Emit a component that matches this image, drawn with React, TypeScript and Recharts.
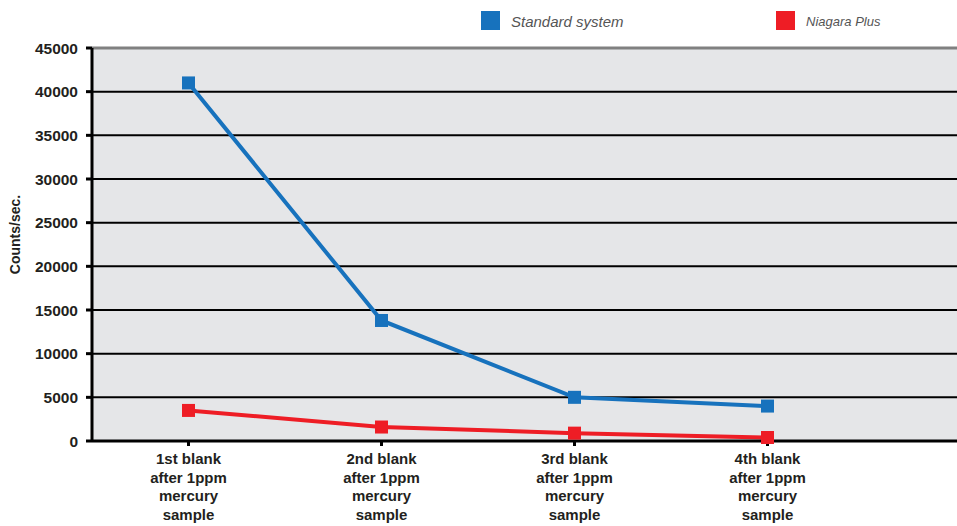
import React from 'react'
import { LineChart, Line, XAxis, YAxis, CartesianGrid, ReferenceLine } from 'recharts'

const categories = [
    '1st blank\nafter 1ppm\nmercury\nsample',
    '2nd blank\nafter 1ppm\nmercury\nsample',
    '3rd blank\nafter 1ppm\nmercury\nsample',
    '4th blank\nafter 1ppm\nmercury\nsample',
]
const standardSystem = [41000, 13800, 5000, 4000]
const niagaraPlus = [3500, 1600, 900, 400]
const yTicks = [0, 5000, 10000, 15000, 20000, 25000, 30000, 35000, 40000, 45000]

const series = [
    { key: 'standard', name: 'Standard system', color: '#1772bd', values: standardSystem, fontSize: 15, left: 481 },
    { key: 'niagara', name: 'Niagara Plus', color: '#ee1d25', values: niagaraPlus, fontSize: 13, left: 776 },
]

const data = categories.map((name, i) => {
    const row: Record<string, any> = { name }
    series.forEach(s => { row[s.key] = s.values[i] })
    return row
})

const font = '"Liberation Sans", Arial, Helvetica, sans-serif'

const CategoryTick = (props: any) => {
    const { x, y, payload } = props
    const lines = String(payload.value).split('\n')
    return (
        <text x={x} y={y + 16} textAnchor="middle" fontFamily={font} fontWeight="bold" fontSize={15} fill="#231f20">
            {lines.map((l, i) => (
                <tspan key={i} x={x} dy={i === 0 ? 0 : 18.5}>{l}</tspan>
            ))}
        </text>
    )
}

const squareDot = (color: string) => (props: any) => {
    const { cx, cy, index } = props
    return <rect key={index} x={cx - 6.5} y={cy - 6.5} width={13} height={13} fill={color} />
}

const App = () => {
    return (
        <div style={{ position: 'absolute', left: 0, top: 0, width: 957, height: 526, background: '#fff' }}>
            <LineChart width={957} height={526} data={data} margin={{ top: 48, right: 0, bottom: 0, left: 0 }}>
                <CartesianGrid vertical={false} fill="#e5e6e8" stroke="#000" strokeWidth={2} />
                <XAxis
                    dataKey="name"
                    height={85}
                    padding={{ left: 96.5, right: 189.5 }}
                    axisLine={{ stroke: '#000', strokeWidth: 3 }}
                    tickLine={{ stroke: '#000', strokeWidth: 3 }}
                    tickSize={5}
                    tick={<CategoryTick />}
                    interval={0}
                />
                <YAxis
                    width={92}
                    domain={[0, 45000]}
                    ticks={yTicks}
                    interval={0}
                    axisLine={{ stroke: '#000', strokeWidth: 3 }}
                    tickLine={{ stroke: '#000', strokeWidth: 3 }}
                    tickSize={6}
                    tickMargin={8}
                    tick={{ fontFamily: font, fontWeight: 'bold', fontSize: 15.5, fill: '#231f20' }}
                    label={{
                        content: (p: any) => {
                            const vb = p.viewBox
                            const cy = vb.y + vb.height / 2 - 10
                            return (
                                <text x={15} y={cy} transform={`rotate(-90 15 ${cy})`} textAnchor="middle" dominantBaseline="central"
                                    fontFamily={font} fontWeight="bold" fontSize={14} fill="#231f20">Counts/sec.</text>
                            )
                        },
                    }}
                />
                <ReferenceLine y={45000} stroke="#808080" strokeWidth={3} />
                {series.map(s => (
                    <Line
                        key={s.key}
                        dataKey={s.key}
                        name={s.name}
                        stroke={s.color}
                        strokeWidth={4}
                        dot={squareDot(s.color)}
                        activeDot={false}
                        isAnimationActive={false}
                    />
                ))}
            </LineChart>
            {series.map(s => (
                <div key={s.key} style={{ position: 'absolute', top: 11, left: s.left, display: 'flex', alignItems: 'center', height: 19 }}>
                    <div style={{ width: 19, height: 19, background: s.color }} />
                    <span style={{ marginLeft: 11, marginTop: 2, fontFamily: font, fontStyle: 'italic', fontSize: s.fontSize, color: '#555' }}>{s.name}</span>
                </div>
            ))}
        </div>
    )
}

export default App
